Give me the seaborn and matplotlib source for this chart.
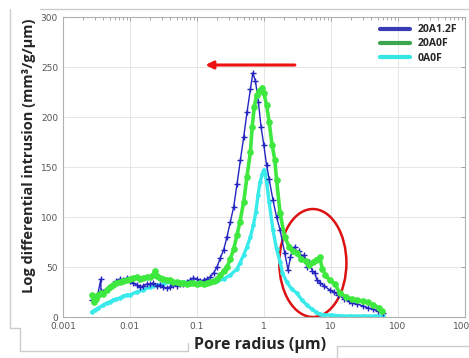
import matplotlib
matplotlib.use("Agg")
import matplotlib.pyplot as plt
import seaborn as sns
from matplotlib.patches import Ellipse
from matplotlib.lines import Line2D

# pore radius (um) and log differential intrusion (mm3/g/um)
r_20a12f = [0.0027, 0.0030, 0.0033, 0.0037, 0.0037, 0.0040, 0.0045, 0.0050, 0.0056, 0.0063,
            0.0071, 0.0080, 0.0090, 0.010, 0.0112, 0.0126, 0.0141, 0.0158, 0.0178, 0.020,
            0.0224, 0.0251, 0.0282, 0.0316, 0.0355, 0.0398, 0.0447, 0.0501, 0.0562, 0.0631,
            0.0708, 0.0794, 0.0891, 0.10, 0.112, 0.126, 0.141, 0.158, 0.178, 0.20,
            0.224, 0.251, 0.282, 0.316, 0.355, 0.398, 0.447, 0.501, 0.562, 0.631,
            0.685, 0.75, 0.83, 0.91, 1.0, 1.1, 1.2, 1.37, 1.55, 1.75,
            2.05, 2.3, 2.5, 2.7, 2.9, 3.1, 3.4, 3.7, 4.0, 4.4,
            4.8, 5.3, 5.8, 6.2, 7.0, 8.0, 9.6, 11, 13, 16,
            19, 21, 25, 30, 36, 43, 50, 60]
v_20a12f = [17, 20, 22, 38, 26, 25, 28, 30, 33, 36,
            38, 37, 39, 36, 34, 32, 30, 31, 33, 33,
            34, 31, 32, 30, 29, 30, 32, 31, 33, 33,
            35, 37, 39, 38, 36, 37, 38, 40, 44, 50,
            59, 67, 80, 95, 110, 133, 157, 180, 205, 228,
            244, 236, 215, 190, 172, 152, 138, 117, 100, 87,
            64, 47, 60, 67, 70, 64, 66, 60, 62, 50,
            55, 46, 44, 37, 34, 31, 27, 25, 22, 18,
            16, 14, 13, 11, 9, 8, 6, 4]

r_20a0f = [0.0027, 0.0029, 0.0031, 0.0034, 0.0037, 0.0040, 0.0045, 0.0050, 0.0056, 0.0063,
           0.0071, 0.0080, 0.0090, 0.010, 0.0112, 0.0126, 0.0141, 0.0158, 0.0178, 0.020,
           0.0224, 0.024, 0.0251, 0.0282, 0.0316, 0.0355, 0.0398, 0.0447, 0.0501, 0.0562,
           0.0631, 0.0708, 0.0794, 0.0891, 0.10, 0.112, 0.126, 0.141, 0.158, 0.178,
           0.20, 0.224, 0.251, 0.282, 0.316, 0.355, 0.398, 0.44, 0.50, 0.56,
           0.63, 0.67, 0.72, 0.78, 0.85, 0.93, 1.0, 1.1, 1.2, 1.33,
           1.46, 1.55, 1.75, 2.05, 2.4, 2.7, 3.1, 3.6, 4.2, 4.8,
           5.5, 6.1, 6.8, 7.5, 8.3, 9.6, 11.5, 13.6, 17, 21,
           25, 30, 36, 43, 53, 58]
v_20a0f = [22, 15, 18, 22, 24, 23, 27, 30, 32, 34,
           35, 36, 37, 38, 39, 40, 38, 39, 40, 40,
           42, 46, 41, 39, 38, 37, 37, 35, 35, 34,
           34, 33, 34, 34, 33, 34, 33, 34, 35, 36,
           38, 42, 46, 50, 58, 68, 82, 95, 115, 140,
           165, 190, 210, 222, 226, 229, 224, 212, 195, 172,
           157, 137, 104, 80, 70, 66, 64, 58, 56, 52,
           55, 57, 60, 48, 42, 37, 33, 24, 20, 18,
           17, 16, 15, 12, 9, 6]

r_0a0f = [0.0027, 0.0030, 0.0034, 0.0040, 0.0045, 0.0050, 0.0056, 0.0063, 0.0071, 0.0080,
          0.0090, 0.010, 0.0126, 0.0158, 0.020, 0.0224, 0.0251, 0.0316, 0.0398, 0.0501,
          0.0631, 0.0794, 0.10, 0.126, 0.158, 0.20, 0.251, 0.316, 0.398, 0.44,
          0.50, 0.56, 0.63, 0.70, 0.76, 0.82, 0.88, 0.95, 1.0, 1.05,
          1.1, 1.2, 1.37, 1.55, 1.75, 1.9, 2.2, 2.6, 3.1, 3.7,
          4.4, 5.2, 6.0, 6.8, 8, 10, 14, 20, 30, 45, 60]
v_0a0f = [5, 7, 9, 12, 14, 15, 17, 18, 19, 21,
          22, 22, 25, 27, 30, 31, 32, 33, 35, 34,
          35, 34, 33, 34, 35, 36, 38, 42, 48, 54,
          62, 70, 80, 92, 105, 122, 135, 143, 147, 143,
          135, 115, 87, 68, 55, 44, 35, 28, 24, 17,
          12, 8, 5, 3, 2, 2, 1, 1, 1, 1, 1]

labels = ["20A1.2F", "20A0F", "0A0F"]
x_ticks = [0.001, 0.01, 0.1, 1, 10, 100, 1000]
x_tick_labels = ["0.001", "0.01", "0.1", "1", "10", "100", "1000"]
y_ticks = [0, 50, 100, 150, 200, 250, 300]

blue = "#2424c0"
green = "#3ee83e"
cyan = "#38eaea"

sns.set_style("white")
fig = plt.figure(figsize=(4.69, 3.58), dpi=100)
ax = fig.add_axes([0.134, 0.1145, 0.857, 0.838])

# seaborn gives markers a white edge by default, so set mec to the line colour
sns.lineplot(x=r_0a0f, y=v_0a0f, ax=ax, color=cyan, lw=2.4, marker="o", ms=2.5,
             mec=cyan, sort=False, estimator=None)
sns.lineplot(x=r_20a12f, y=v_20a12f, ax=ax, color=blue, lw=1.0, marker="+", ms=4.5,
             mew=1.0, mec=blue, sort=False, estimator=None)
sns.lineplot(x=r_20a0f, y=v_20a0f, ax=ax, color=green, lw=2.6, marker="o", ms=4,
             mec=green, sort=False, estimator=None)

ax.set_xscale("log")
ax.set_xlim(0.001, 1000)
ax.set_ylim(0, 300)
ax.set_xticks(x_ticks)
ax.set_xticklabels(x_tick_labels)
ax.set_yticks(y_ticks)
ax.grid(True, which="major", color="#e6e6e6", lw=0.7)
for s in ax.spines.values():
    s.set_color("#b0b0b0")
    s.set_linewidth(0.8)
ax.tick_params(which="both", direction="in", top=True, right=True, colors="#999999",
               labelcolor="#555555", labelsize=6.5, length=3, width=0.6)
ax.tick_params(which="minor", length=2)
ax.set_xlabel("")
ax.set_ylabel("")

# legend
handles = [Line2D([], [], color="#3a3ab4", lw=3),
           Line2D([], [], color="#3aa64e", lw=3),
           Line2D([], [], color="#33e6e6", lw=3)]
ax.legend(handles, labels, loc="upper right", frameon=False, handlelength=2.8,
          prop={"family": "Open Sans", "weight": "bold", "size": 7.5},
          labelspacing=0.3, borderaxespad=0.3)

# arrow and ellipse
ax.annotate("", xy=(0.122, 252), xytext=(3.2, 252),
            arrowprops=dict(arrowstyle="-|>", color="#ee1111", lw=2.2, mutation_scale=11))
ax.add_patch(Ellipse((0.622, 0.18), 0.167, 0.36, transform=ax.transAxes,
                     fill=False, edgecolor="#dd1111", lw=1.8))

fig.text(0.062, 0.565, "Log differential intrusion (mm³/g/µm)", rotation=90,
         ha="center", va="center", family="Open Sans", weight="bold", size=10.5)
fig.text(0.555, 0.035, "Pore radius (µm)", ha="center", va="center",
         family="Open Sans", weight="bold", size=11.5)

# faint screenshot frame
gc = "#cccccc"
fig.add_artist(Line2D([40 / 469, 1], [1 - 9 / 358] * 2, color=gc, lw=1))
fig.add_artist(Line2D([10 / 469] * 2, [1 - 9 / 358, 1 - 328 / 358], color=gc, lw=1))
fig.add_artist(Line2D([10 / 469, 20 / 469], [1 - 328 / 358] * 2, color=gc, lw=1))
fig.add_artist(Line2D([20 / 469] * 2, [1 - 328 / 358, 1 - 351 / 358], color=gc, lw=1))
fig.add_artist(Line2D([20 / 469, 188 / 469], [1 - 351 / 358] * 2, color=gc, lw=1))
fig.add_artist(Line2D([188 / 469] * 2, [1 - 351 / 358, 1 - 343 / 358], color=gc, lw=1))
fig.add_artist(Line2D([337 / 469] * 2, [1 - 358 / 358, 1 - 346 / 358], color=gc, lw=1))
fig.add_artist(Line2D([337 / 469, 1], [1 - 346 / 358] * 2, color=gc, lw=1))

fig.savefig("out.png", dpi=100)
